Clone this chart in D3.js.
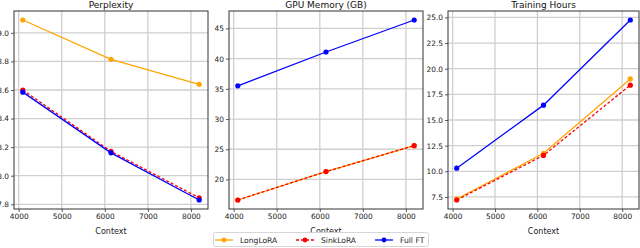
<!DOCTYPE html>
<html>
<head>
<meta charset="utf-8">
<script src="https://cdn.jsdelivr.net/npm/d3@7"></script>
<style>
  body { margin: 0; background: #fff; }
  text { font-family: "DejaVu Sans", sans-serif; }
</style>
</head>
<body>
<script>
// #region DATA
var contextLengths = [4096, 6144, 8192];
var xTicks = [4000, 5000, 6000, 7000, 8000];

var seriesNames = ["LongLoRA", "SinkLoRA", "Full FT"];
var seriesColors = ["#ffa500", "#ff0000", "#0000ff"];
var seriesDash = [null, "3,2", null];

var perplexity = [
    [9.09, 8.815, 8.64],
    [8.60, 8.17, 7.845],
    [8.585, 8.16, 7.83]
];
var gpuMemory = [
    [16.6, 21.3, 25.6],
    [16.6, 21.3, 25.6],
    [35.5, 41.1, 46.4]
];
var trainingHours = [
    [7.3, 11.75, 19.0],
    [7.2, 11.55, 18.4],
    [10.3, 16.45, 24.75]
];

var panelTitles = ["Perplexity", "GPU Memory (GB)", "Training Hours"];
var panelTicks = [
    [7.8, 8.0, 8.2, 8.4, 8.6, 8.8, 9.0],
    [20, 25, 30, 35, 40, 45],
    [7.5, 10.0, 12.5, 15.0, 17.5, 20.0, 22.5, 25.0]
];
var panelFormats = [".1f", "d", ".1f"];
// #endregion

// #region SETUP
var svg = d3.select("body")
    .append("svg")
    .attr("width", 640)
    .attr("height", 248);

// plot areas, left / right edges of each panel
var panelBox = [
    {x0: 14, x1: 208},
    {x0: 229, x1: 423},
    {x0: 448, x1: 639}
];
var plotTop = 11, plotBottom = 209;
var panelData = [perplexity, gpuMemory, trainingHours];
// #endregion

// #region PANELS
panelData.forEach(function(series, p) {
    var box = panelBox[p];
    var g = svg.append("g").attr("class", "panel");

    var x = d3.scaleLinear()
        .domain([4096 - 204.8, 8192 + 204.8])
        .range([box.x0, box.x1]);

    var all = d3.merge(series);
    var lo = d3.min(all), hi = d3.max(all), pad = (hi - lo) * 0.05;
    var y = d3.scaleLinear()
        .domain([lo - pad, hi + pad])
        .range([plotBottom, plotTop]);

    // grid
    g.append("g")
        .selectAll("line.vg")
        .data(xTicks)
        .enter()
        .append("line")
            .attr("x1", d => x(d)).attr("x2", d => x(d))
            .attr("y1", plotTop).attr("y2", plotBottom)
            .attr("stroke", "#cfcfcf")
            .attr("stroke-width", 1.3);

    g.append("g")
        .selectAll("line.hg")
        .data(panelTicks[p])
        .enter()
        .append("line")
            .attr("x1", box.x0).attr("x2", box.x1)
            .attr("y1", d => y(d)).attr("y2", d => y(d))
            .attr("stroke", "#cfcfcf")
            .attr("stroke-width", 1.3);

    // axes
    var xAxis = g.append("g")
        .attr("transform", "translate(0," + plotBottom + ")")
        .call(d3.axisBottom(x).tickValues(xTicks).tickFormat(d3.format("d")).tickSize(3).tickPadding(2));

    var yAxis = g.append("g")
        .attr("transform", "translate(" + box.x0 + ",0)")
        .call(d3.axisLeft(y).tickValues(panelTicks[p]).tickFormat(d3.format(panelFormats[p])).tickSize(3).tickPadding(2));

    [xAxis, yAxis].forEach(function(a) {
        a.select(".domain").remove();
        a.selectAll("line").attr("stroke", "#333").attr("stroke-width", 0.8);
        a.selectAll("text")
            .attr("fill", "#222")
            .style("font-size", "7.4px")
            .style("font-family", "'DejaVu Sans', sans-serif");
    });

    // frame
    g.append("rect")
        .attr("x", box.x0)
        .attr("y", plotTop)
        .attr("width", box.x1 - box.x0)
        .attr("height", plotBottom - plotTop)
        .attr("fill", "none")
        .attr("stroke", "#333")
        .attr("stroke-width", 1);

    // lines + markers
    var line = d3.line()
        .x((d, i) => x(contextLengths[i]))
        .y(d => y(d));

    series.forEach(function(vals, s) {
        g.append("path")
            .datum(vals)
            .attr("d", line)
            .attr("fill", "none")
            .attr("stroke", seriesColors[s])
            .attr("stroke-width", 1.3)
            .attr("stroke-dasharray", seriesDash[s]);

        g.append("g")
            .selectAll("circle")
            .data(vals)
            .enter()
            .append("circle")
                .attr("cx", (d, i) => x(contextLengths[i]))
                .attr("cy", d => y(d))
                .attr("r", 2.6)
                .attr("fill", seriesColors[s]);
    });

    // title and x label
    g.append("text")
        .text(panelTitles[p])
        .attr("x", (box.x0 + box.x1) / 2)
        .attr("y", 8)
        .attr("text-anchor", "middle")
        .attr("fill", "#111")
        .style("font-size", "9px");

    g.append("text")
        .text("Context")
        .attr("x", (box.x0 + box.x1) / 2)
        .attr("y", 234)
        .attr("text-anchor", "middle")
        .attr("fill", "#222")
        .style("font-size", "8px");
});
// #endregion

// #region LEGEND
var legend = svg.append("g").attr("id", "legend");

legend.append("rect")
    .attr("x", 213.5)
    .attr("y", 232.5)
    .attr("width", 215)
    .attr("height", 14)
    .attr("rx", 2)
    .attr("fill", "#fff")
    .attr("stroke", "#ccc")
    .attr("stroke-width", 0.8);

var legendX = [215, 296, 375];

var entry = legend.selectAll("g.entry")
    .data(seriesNames)
    .enter()
    .append("g")
        .attr("class", "entry")
        .attr("transform", (d, i) => "translate(" + legendX[i] + ",240)");

entry.append("line")
    .attr("x1", 0).attr("x2", 18)
    .attr("y1", 0).attr("y2", 0)
    .attr("stroke", (d, i) => seriesColors[i])
    .attr("stroke-width", 1.3)
    .attr("stroke-dasharray", (d, i) => seriesDash[i]);

entry.append("circle")
    .attr("cx", 9)
    .attr("cy", 0)
    .attr("r", 2.4)
    .attr("fill", (d, i) => seriesColors[i]);

entry.append("text")
    .text(d => d)
    .attr("x", 25)
    .attr("y", 2.7)
    .attr("fill", "#222")
    .style("font-size", "7.6px");
// #endregion
</script>
</body>
</html>
